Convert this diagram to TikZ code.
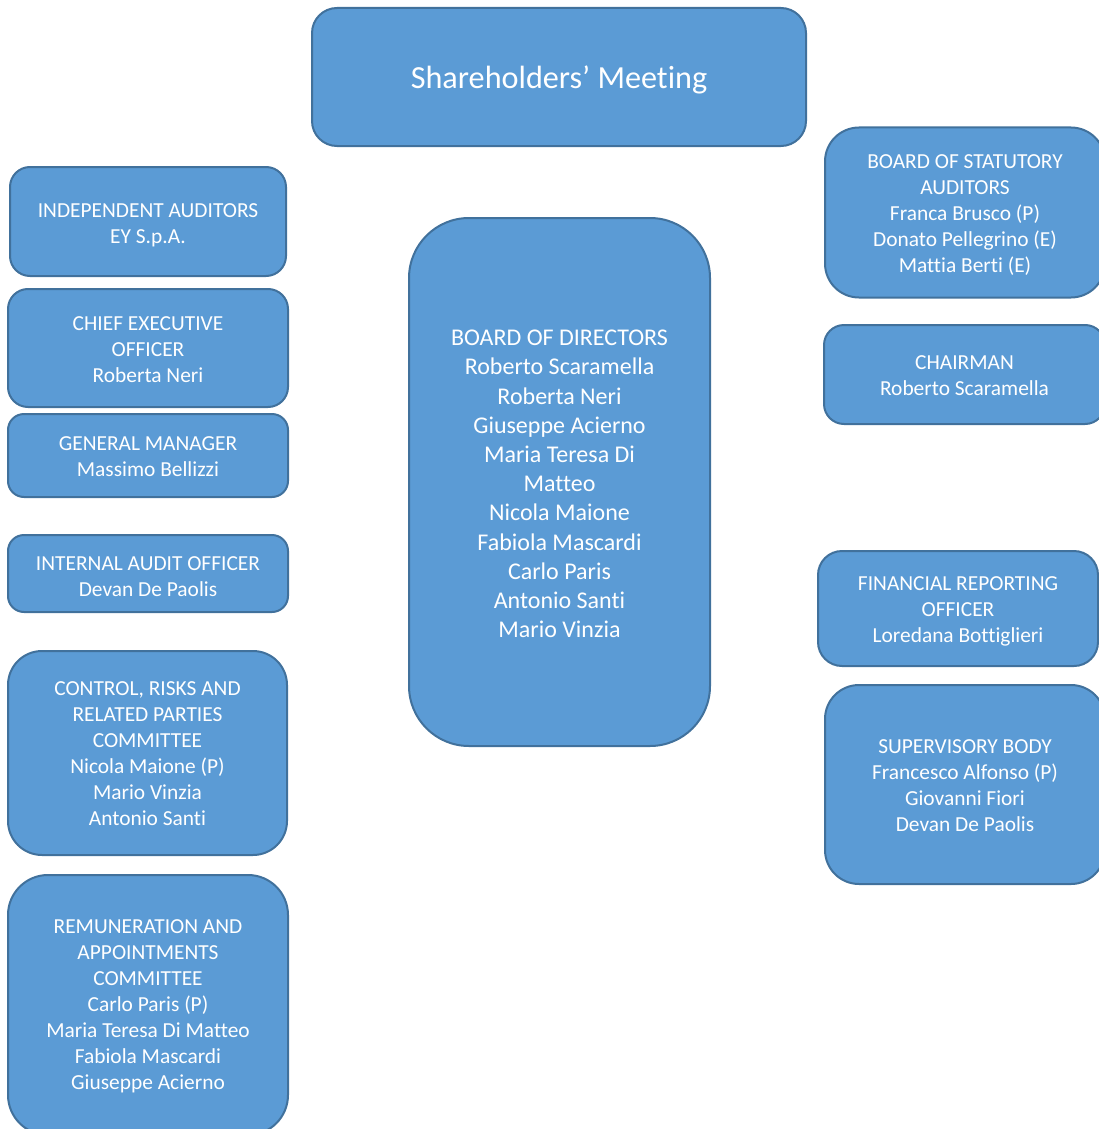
\documentclass[tikz,border=0pt]{standalone}
\usepackage{fontspec}
\setmainfont{Carlito}[Ligatures=CommonOff]
\usepackage{tikz}
\usetikzlibrary{positioning}
\usepackage{xcolor}
\definecolor{officeblue}{HTML}{5B9BD5}
\definecolor{officeedge}{HTML}{41719C}
\newcommand{\lift}[1]{\rule{0pt}{#1}}

\begin{document}
\begin{tikzpicture}[x=0.5pt, y=-0.5pt,
    block/.style={rounded corners=#1, fill=officeblue, draw=officeedge,
                  line width=1pt, text=white, align=center, inner sep=0pt,
                  font=\fontsize{10.7}{13}\selectfont},
    block/.default=10pt,
    big/.style={font=\fontsize{12}{14.6}\selectfont},
    title/.style={font=\fontsize{16.1}{19}\selectfont}
  ]
    \useasboundingbox (0,0) rectangle (1098,1129);

    % top
    \node[block=12.5pt, title, minimum width=247pt, minimum height=69pt]
      (SM) at (559, 77) {\lift{14.5pt}Shareholders’ Meeting};

    % left column
    \node[block=10pt, minimum width=138pt, minimum height=54.5pt]
      (IA) at (148, 221.5) {\lift{10.9pt}INDEPENDENT AUDITORS\\EY S.p.A.};
    \node[block=10pt, minimum width=140pt, minimum height=59pt]
      (CEO) at (148, 348) {\lift{8.9pt}CHIEF EXECUTIVE\\OFFICER\\Roberta Neri};
    \node[block=8pt, minimum width=140pt, minimum height=41.5pt]
      (GM) at (148, 455.5) {\lift{7.9pt}GENERAL MANAGER\\Massimo Bellizzi};
    \node[block=8pt, minimum width=140pt, minimum height=38.5pt]
      (IAO) at (148, 573.5) {\lift{9.9pt}INTERNAL AUDIT OFFICER\\Devan De Paolis};
    \node[block=17pt, minimum width=139.5pt, minimum height=102pt]
      (CRC) at (147.5, 753) {\lift{7.9pt}CONTROL, RISKS AND\\RELATED PARTIES\\
       COMMITTEE\\Nicola Maione (P)\\Mario Vinzia\\Antonio Santi};
    \node[block=20pt, minimum width=140pt, minimum height=130pt]
      (RAC) at (148, 1005) {\lift{7.9pt}REMUNERATION AND\\APPOINTMENTS\\
       COMMITTEE\\Carlo Paris (P)\\Maria Teresa Di Matteo\\Fabiola Mascardi\\
       Giuseppe Acierno};

    % centre
    \node[block=30pt, big, minimum width=150.5pt, minimum height=264pt]
      (BD) at (559.5, 482) {\lift{9.7pt}BOARD OF DIRECTORS\\
       Roberto Scaramella\\Roberta Neri\\Giuseppe Acierno\\Maria Teresa Di\\
       Matteo\\Nicola Maione\\Fabiola Mascardi\\Carlo Paris\\Antonio Santi\\
       Mario Vinzia};

    % right column
    \node[block=17pt, minimum width=140pt, minimum height=85pt]
      (BSA) at (965, 212.5) {\lift{9.9pt}BOARD OF STATUTORY\\AUDITORS\\
       Franca Brusco (P)\\Donato Pellegrino (E)\\Mattia Berti (E)};
    \node[block=10pt, minimum width=140.5pt, minimum height=49.5pt]
      (CH) at (964.5, 374.5) {\lift{7.9pt}CHAIRMAN\\Roberto Scaramella};
    \node[block=12pt, minimum width=140pt, minimum height=57.5pt]
      (FRO) at (958, 608.5) {\lift{9.9pt}FINANCIAL REPORTING\\OFFICER\\
       Loredana Bottiglieri};
    \node[block=17pt, minimum width=140pt, minimum height=99.5pt]
      (SB) at (965, 784.5) {\lift{7.9pt}SUPERVISORY BODY\\Francesco Alfonso (P)\\
       Giovanni Fiori\\Devan De Paolis};
\end{tikzpicture}
\end{document}
